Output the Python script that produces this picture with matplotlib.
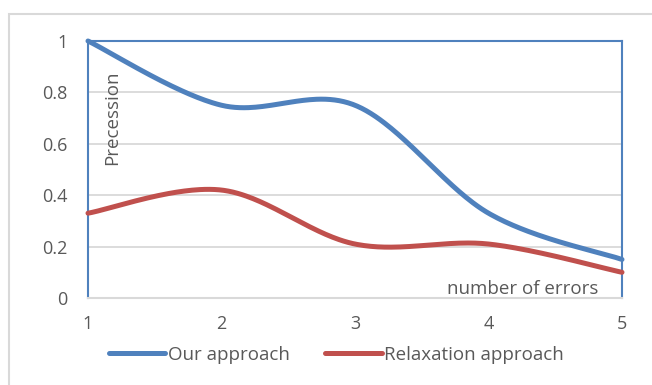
import numpy as np
import matplotlib
matplotlib.use("Agg")
import matplotlib.pyplot as plt
from matplotlib.patches import Rectangle

plt.rcParams['font.family'] = ['Open Sans', 'DejaVu Sans']

errors = [1, 2, 3, 4, 5]
our_approach = [1.0, 0.75, 0.75, 0.33, 0.15]
relaxation_approach = [0.33, 0.42, 0.21, 0.21, 0.10]
y_ticks = [0, 0.2, 0.4, 0.6, 0.8, 1]
y_tick_labels = ['0', '0.2', '0.4', '0.6', '0.8', '1']

BLUE = '#4F81BD'
RED = '#C0504D'
TEXT = '#595959'
GRID = '#D9D9D9'
FS = 13.5
TICK_FS = 13


def smooth(xs, ys, n=60):
    """Piecewise cubic Bezier through the points (spreadsheet-style smoothing)."""
    p = np.column_stack([xs, ys]).astype(float)
    ext = np.vstack([p[0], p, p[-1]])
    out = []
    for i in range(len(p) - 1):
        p0, p1, p2, p3 = ext[i], ext[i + 1], ext[i + 2], ext[i + 3]
        c1 = p1 + (p2 - p0) / 6.0
        c2 = p2 - (p3 - p1) / 6.0
        t = np.linspace(0, 1, n)[:, None]
        seg = ((1 - t) ** 3) * p1 + 3 * ((1 - t) ** 2) * t * c1 + 3 * (1 - t) * t ** 2 * c2 + t ** 3 * p2
        out.append(seg if i == 0 else seg[1:])
    s = np.vstack(out)
    return s[:, 0], s[:, 1]


fig = plt.figure(figsize=(6.52, 3.85), dpi=100)
fig.patch.set_facecolor('white')

# chart-area border
fig.patches.append(Rectangle((9 / 652, -0.1), 1.2, 1 - 14 / 385 + 0.1,
                             transform=fig.transFigure, fill=False,
                             edgecolor='#D9D9D9', linewidth=1.5))

ax = fig.add_axes([88 / 652, 1 - 298 / 385, (622 - 88) / 652, (298 - 41) / 385])
ax.set_xlim(1, 5)
ax.set_ylim(0, 1)

for yv in y_ticks[1:-1]:
    ax.axhline(yv, color=GRID, linewidth=1.3, zorder=1)

xs, ys = smooth(errors, our_approach)
ax.plot(xs, ys, color=BLUE, linewidth=3.6, solid_capstyle='round', zorder=3,
        label='Our approach', clip_on=False)
xs, ys = smooth(errors, relaxation_approach)
ax.plot(xs, ys, color=RED, linewidth=3.6, solid_capstyle='round', zorder=3,
        label='Relaxation approach', clip_on=False)

for side in ['left', 'top', 'right']:
    ax.spines[side].set_color(BLUE)
    ax.spines[side].set_linewidth(1.5)
ax.spines['bottom'].set_color(GRID)
ax.spines['bottom'].set_linewidth(1.5)

ax.set_xticks(errors)
ax.set_xticklabels([str(e) for e in errors])
ax.set_yticks(y_ticks)
ax.set_yticklabels(y_tick_labels)
ax.tick_params(axis='both', length=0, colors=TEXT, labelsize=TICK_FS)
ax.tick_params(axis='y', pad=15)
ax.tick_params(axis='x', pad=12)

ax.text(1.18, 0.70, 'Precession', rotation=90, ha='center', va='center',
        color=TEXT, fontsize=FS, transform=ax.transData)
ax.text(4.255, 0.035, 'number of errors', ha='center', va='center',
        color=TEXT, fontsize=FS, transform=ax.transData)

leg = fig.legend(loc='center', bbox_to_anchor=(336.5 / 652, 1 - 355 / 385), ncol=2,
                 frameon=False, fontsize=FS, handlelength=3.0, handletextpad=0.15,
                 columnspacing=1.9, labelcolor=TEXT)

fig.savefig('out.png', dpi=100, facecolor='white')
